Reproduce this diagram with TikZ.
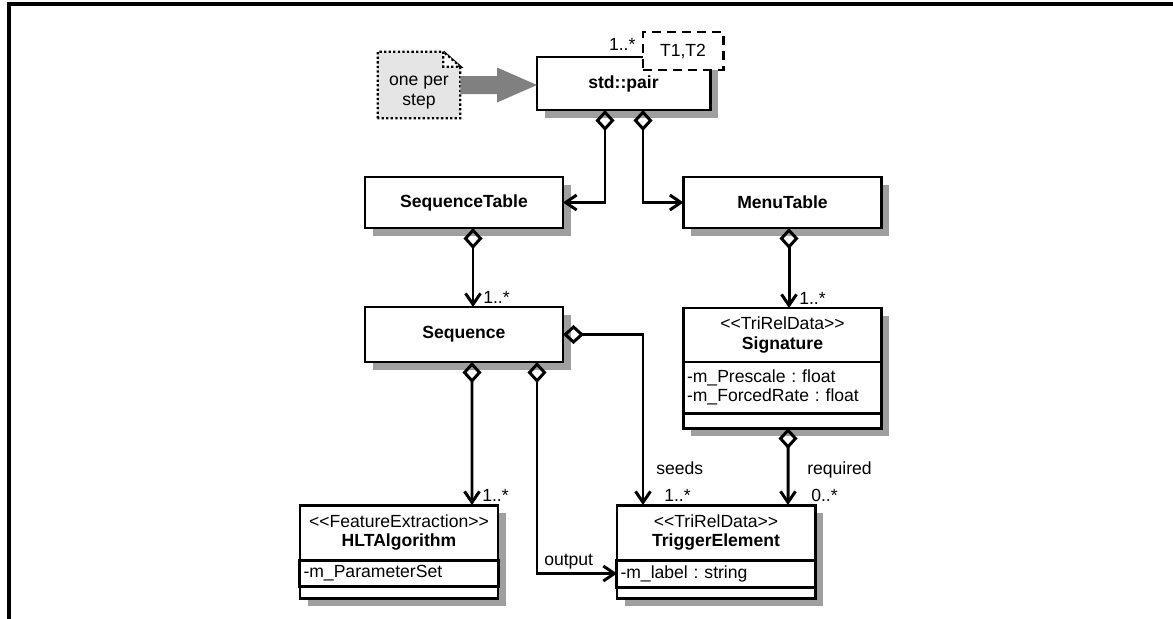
\documentclass[tikz,border=0pt]{standalone}
\usepackage{fontspec}
\setmainfont{Liberation Sans}
\usepackage{tikz}
\usetikzlibrary{arrows.meta, positioning, calc, shadows, backgrounds}

\newcommand{\stereo}[1]{<\kern0pt<#1>\kern0pt>}
\frenchspacing

\begin{document}
\begin{tikzpicture}[
    cls/.style={draw, fill=white, line width=1.7pt, outer sep=0pt, minimum width=3.96cm,
        drop shadow={shadow xshift=0.15cm, shadow yshift=-0.15cm, fill=gray!75, opacity=1}},
    head/.style={cls, minimum height=1.1cm, align=center},
    attr/.style={cls, align=left, text width=3.82cm, inner xsep=2pt, inner ysep=2pt},
    ops/.style={cls, inner sep=0pt},
    notebox/.style={fill=gray!20, line width=1.3pt, dash pattern=on 1.3pt off 1.3pt},
    agg/.style={line width=1.7pt, {Diamond[open, length=0.42cm, width=0.38cm]}-{Straight Barb[length=0.22cm, width=0.3cm]}},
    mult/.style={inner sep=1pt, anchor=base west}
]
    \useasboundingbox (0,0) rectangle (23.46,-12.38);
    \draw[line width=2.3pt] (0.18,-12.5) -- (0.18,-0.08) -- (23.6,-0.08);

    % the pair and its template box
    \node (pair) [cls, minimum width=3.46cm, minimum height=1.06cm, font=\bfseries] at (12.47,-1.67) {std::pair};
    \node (tparam) [draw, fill=white, line width=1.7pt, dash pattern=on 0.18cm off 0.12cm, minimum width=1.6cm, minimum height=0.76cm] at (13.66,-1.02) {T1,T2};
    \node (pairmult) [inner sep=1pt, anchor=base east] at ([xshift=-0.08cm, yshift=0.14cm]tparam.west |- pair.north) {1..*};

    % note with its big arrow
    \node (note) [minimum width=1.64cm, minimum height=1.32cm, align=center, inner sep=0pt] at (8.38,-1.70) {\rule{0pt}{14pt}one per\\[-1pt]step};
    \begin{scope}[on background layer]
        \draw[notebox] (note.south west) -- (note.north west) -- ([xshift=-0.34cm]note.north east)
            -- ([yshift=-0.3cm]note.north east) -- (note.south east) -- cycle;
        \draw[notebox, fill=white] ([xshift=-0.34cm]note.north east) |- ([yshift=-0.3cm]note.north east) -- cycle;
    \end{scope}
    \coordinate (tip) at (note.east -| pair.west);
    \fill[gray] ([yshift=0.18cm]note.east) -- ([xshift=-0.8cm, yshift=0.18cm]tip) -- ([xshift=-0.8cm, yshift=0.35cm]tip)
        -- (tip) -- ([xshift=-0.8cm, yshift=-0.35cm]tip) -- ([xshift=-0.8cm, yshift=-0.18cm]tip) -- ([yshift=-0.18cm]note.east) -- cycle;

    % tables
    \node (seqtab) [cls, minimum height=1.02cm, font=\bfseries] at (9.28,-4.05) {SequenceTable};
    \node (menu) [cls, minimum height=1.02cm, font=\bfseries] at (15.65,-4.05) {MenuTable};
    \node (seq) [cls, minimum height=1.1cm, font=\bfseries, below=1.58cm of seqtab] {Sequence};

    % classes with compartments
    \node (sig) [head, minimum height=1.08cm, below=1.6cm of menu] {\stereo{TriRelData}\\[-1pt]\textbf{Signature}};
    \node (sigattr) [attr, minimum height=1.02cm, below=0pt of sig] {-m\_Prescale : float\\[-1pt]-m\_ForcedRate : float};
    \node (sigops) [ops, minimum height=0.3cm, below=0pt of sigattr] {};

    \node (hlt) [head, anchor=north] at (7.98,-10.10) {\stereo{FeatureExtraction}\\[-1pt]\textbf{HLTAlgorithm}};
    \node (hltattr) [attr, minimum height=0.52cm, below=0pt of hlt] {-m\_ParameterSet};
    \node (hltops) [ops, minimum height=0.24cm, below=0pt of hltattr] {};

    \node (trig) [head, anchor=north] at (14.32,-10.10) {\stereo{TriRelData}\\[-1pt]\textbf{TriggerElement}};
    \node (trigattr) [attr, minimum height=0.54cm, below=0pt of trig] {-m\_label : string};
    \node (trigops) [ops, minimum height=0.22cm, below=0pt of trigattr] {};

    % aggregations
    \draw[agg] ([xshift=-0.37cm]pair.south) |- (seqtab.east);
    \draw[agg] ([xshift=0.39cm]pair.south) |- (menu.west);
    \draw[agg] ([xshift=0.18cm]seqtab.south) -- ([xshift=0.18cm]seq.north)
        node (seqmult) [mult, xshift=0.14cm, yshift=0.08cm] {1..*};
    \draw[agg] ([xshift=0.13cm]menu.south) -- ([xshift=0.13cm]sig.north)
        node (sigmult) [mult, xshift=0.14cm, yshift=0.08cm] {1..*};
    \draw[agg] ([xshift=0.16cm]seq.south) -- ([xshift=1.46cm]hlt.north)
        node (hltmult) [mult, xshift=0.14cm, yshift=0.08cm] {1..*};
    \draw[agg] (seq.east) -| ([xshift=-1.46cm]trig.north)
        node (seedsmult) [mult, xshift=0.36cm, yshift=0.08cm] {1..*}
        node (seeds) [mult, xshift=0.2cm, yshift=0.62cm] {seeds};
    \draw[agg] ([xshift=1.46cm]seq.south) |- (trigattr.west)
        node (output) [mult, pos=0.5, xshift=0.08cm, yshift=0.17cm] {output};
    \draw[agg] ([xshift=0.11cm]sigops.south) -- ([xshift=1.44cm]trig.north)
        node (reqmult) [mult, xshift=0.4cm, yshift=0.08cm] {0..*}
        node (required) [mult, xshift=0.32cm, yshift=0.62cm] {required};
\end{tikzpicture}
\end{document}
